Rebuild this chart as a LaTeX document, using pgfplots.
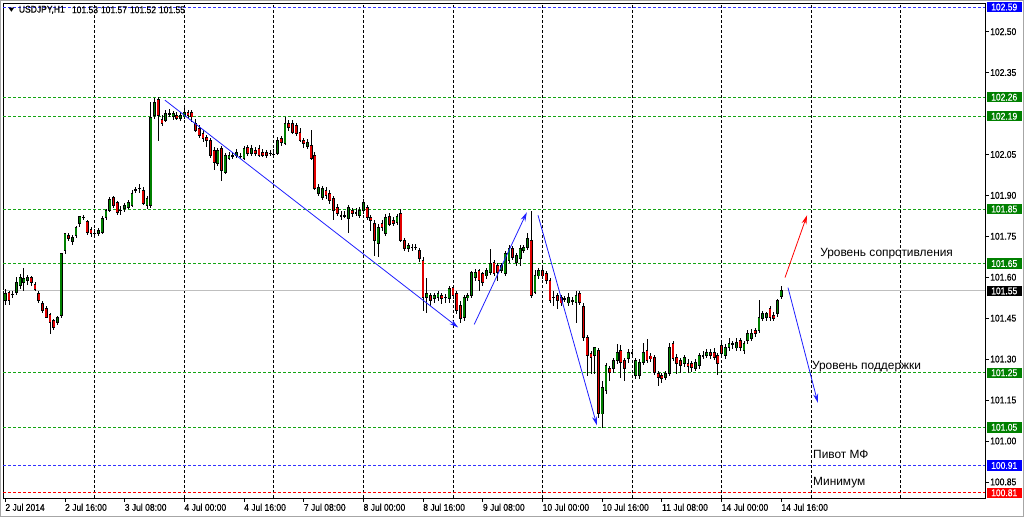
\documentclass[border=0pt]{standalone}
\usepackage{fontspec}
\setmainfont{Liberation Sans}
\newfontfamily\tah[FakeStretch=0.87,FakeBold=0.5]{Liberation Sans}
\usepackage{pgfplots}
\usepackage{pgfplotstable}
\pgfplotsset{compat=1.18}
\usetikzlibrary{arrows.meta}

\definecolor{bull}{RGB}{0,128,0}
\definecolor{bear}{RGB}{225,0,0}
\definecolor{lvl}{RGB}{20,165,20}
\definecolor{lvlbox}{RGB}{0,128,0}
\definecolor{pivblue}{RGB}{50,50,255}
\definecolor{arrblue}{RGB}{30,30,255}

% USDJPY H1, bar index from 2 Jul 2014 00:00
\pgfplotstableread{
t o h l c
0 101.515 101.559 101.500 101.540
1 101.544 101.551 101.500 101.515
2 101.537 101.551 101.526 101.537
3 101.544 101.603 101.537 101.581
4 101.570 101.614 101.559 101.599
5 101.581 101.636 101.551 101.595
6 101.588 101.610 101.573 101.599
7 101.599 101.606 101.570 101.581
8 101.573 101.584 101.548 101.555
9 101.540 101.551 101.507 101.515
10 101.504 101.515 101.471 101.478
11 101.485 101.493 101.449 101.452
12 101.463 101.471 101.394 101.434
13 101.441 101.449 101.408 101.416
14 101.434 101.460 101.427 101.452
15 101.460 101.691 101.452 101.687
16 101.698 101.764 101.687 101.761
17 101.753 101.764 101.735 101.742
18 101.731 101.757 101.720 101.746
19 101.753 101.790 101.746 101.783
20 101.798 101.827 101.786 101.823
21 101.820 101.827 101.812 101.820
22 101.805 101.812 101.757 101.764
23 101.775 101.786 101.750 101.761
24 101.761 101.779 101.750 101.761
25 101.761 101.783 101.753 101.772
26 101.764 101.823 101.757 101.816
27 101.820 101.853 101.812 101.845
28 101.845 101.893 101.838 101.886
29 101.893 101.900 101.856 101.864
30 101.875 101.882 101.831 101.838
31 101.845 101.860 101.827 101.845
32 101.853 101.871 101.838 101.864
33 101.856 101.882 101.849 101.875
34 101.864 101.919 101.856 101.908
35 101.922 101.933 101.911 101.922
36 101.926 101.944 101.911 101.926
37 101.919 101.933 101.864 101.871
38 101.864 101.900 101.853 101.889
39 101.864 102.242 101.856 102.187
40 102.194 102.260 102.183 102.242
41 102.253 102.260 102.102 102.194
42 102.179 102.194 102.154 102.165
43 102.176 102.212 102.168 102.201
44 102.201 102.216 102.190 102.201
45 102.190 102.212 102.176 102.201
46 102.194 102.205 102.176 102.183
47 102.183 102.205 102.172 102.194
48 102.187 102.220 102.179 102.205
49 102.205 102.212 102.183 102.194
50 102.205 102.212 102.168 102.187
51 102.165 102.179 102.132 102.139
52 102.146 102.157 102.110 102.121
53 102.128 102.139 102.095 102.110
54 102.113 102.124 102.080 102.102
55 102.102 102.113 102.040 102.047
56 102.066 102.076 101.992 102.022
57 102.018 102.073 102.007 102.066
58 102.073 102.080 101.955 101.992
59 101.985 102.058 101.978 102.047
60 102.036 102.058 102.029 102.047
61 102.047 102.058 102.036 102.047
62 102.047 102.069 102.036 102.058
63 102.044 102.055 102.033 102.044
64 102.036 102.080 102.029 102.073
65 102.076 102.084 102.044 102.055
66 102.055 102.084 102.044 102.073
67 102.066 102.076 102.044 102.055
68 102.073 102.084 102.040 102.047
69 102.058 102.069 102.040 102.047
70 102.058 102.066 102.036 102.047
71 102.055 102.066 102.044 102.055
72 102.051 102.073 102.040 102.051
73 102.055 102.113 102.047 102.102
74 102.110 102.117 102.080 102.095
75 102.091 102.187 102.084 102.165
76 102.165 102.176 102.139 102.150
77 102.165 102.176 102.124 102.132
78 102.157 102.165 102.117 102.128
79 102.132 102.146 102.095 102.102
80 102.102 102.113 102.073 102.091
81 102.080 102.106 102.069 102.095
82 102.084 102.139 102.029 102.036
83 102.047 102.058 101.919 101.926
84 101.908 101.940 101.896 101.930
85 101.893 101.937 101.886 101.926
86 101.919 101.930 101.889 101.900
87 101.908 101.919 101.871 101.882
88 101.889 101.900 101.809 101.845
89 101.856 101.867 101.823 101.834
90 101.827 101.845 101.812 101.827
91 101.827 101.845 101.816 101.827
92 101.816 101.867 101.764 101.856
93 101.845 101.856 101.823 101.834
94 101.838 101.853 101.827 101.838
95 101.827 101.856 101.816 101.845
96 101.845 101.886 101.834 101.875
97 101.856 101.867 101.812 101.820
98 101.820 101.831 101.772 101.809
99 101.798 101.809 101.680 101.735
100 101.724 101.794 101.673 101.783
101 101.798 101.812 101.772 101.783
102 101.761 101.831 101.753 101.820
103 101.823 101.834 101.786 101.794
104 101.809 101.820 101.790 101.798
105 101.801 101.834 101.794 101.823
106 101.834 101.849 101.728 101.735
107 101.735 101.746 101.698 101.706
108 101.706 101.728 101.695 101.717
109 101.709 101.724 101.698 101.709
110 101.709 101.720 101.698 101.709
111 101.698 101.709 101.658 101.669
112 101.662 101.673 101.478 101.526
113 101.526 101.599 101.471 101.540
114 101.533 101.544 101.496 101.515
115 101.522 101.544 101.507 101.533
116 101.526 101.551 101.515 101.540
117 101.533 101.544 101.504 101.522
118 101.526 101.540 101.507 101.526
119 101.522 101.570 101.507 101.559
120 101.562 101.570 101.522 101.533
121 101.540 101.551 101.467 101.478
122 101.496 101.515 101.434 101.449
123 101.452 101.537 101.441 101.526
124 101.526 101.544 101.515 101.533
125 101.533 101.625 101.526 101.617
126 101.599 101.632 101.588 101.617
127 101.625 101.632 101.551 101.588
128 101.614 101.621 101.570 101.581
129 101.606 101.636 101.595 101.625
130 101.617 101.706 101.610 101.651
131 101.654 101.665 101.606 101.614
132 101.643 101.654 101.588 101.617
133 101.625 101.654 101.617 101.643
134 101.614 101.698 101.606 101.687
135 101.662 101.717 101.654 101.706
136 101.706 101.717 101.665 101.673
137 101.654 101.691 101.643 101.680
138 101.669 101.717 101.640 101.706
139 101.698 101.720 101.691 101.709
140 101.709 101.764 101.702 101.742
141 101.735 101.845 101.526 101.533
142 101.544 101.625 101.537 101.606
143 101.606 101.636 101.595 101.625
144 101.625 101.636 101.595 101.606
145 101.614 101.625 101.577 101.588
146 101.588 101.599 101.507 101.515
147 101.526 101.551 101.496 101.526
148 101.533 101.544 101.485 101.515
149 101.526 101.537 101.496 101.507
150 101.522 101.533 101.511 101.522
151 101.507 101.544 101.496 101.526
152 101.515 101.529 101.500 101.515
153 101.507 101.551 101.434 101.533
154 101.540 101.551 101.500 101.507
155 101.493 101.504 101.368 101.379
156 101.379 101.390 101.240 101.313
157 101.320 101.331 101.247 101.306
158 101.313 101.342 101.247 101.342
159 101.331 101.342 101.085 101.100
160 101.100 101.221 101.049 101.196
161 101.184 101.287 101.173 101.276
162 101.265 101.276 101.221 101.251
163 101.265 101.306 101.251 101.295
164 101.295 101.357 101.284 101.324
165 101.331 101.350 101.229 101.287
166 101.295 101.306 101.221 101.265
167 101.302 101.339 101.287 101.324
168 101.324 101.339 101.309 101.324
169 101.240 101.306 101.229 101.295
170 101.240 101.302 101.229 101.287
171 101.287 101.361 101.280 101.324
172 101.331 101.375 101.287 101.295
173 101.313 101.324 101.291 101.302
174 101.306 101.317 101.243 101.251
175 101.247 101.258 101.203 101.232
176 101.240 101.251 101.214 101.229
177 101.232 101.258 101.225 101.247
178 101.247 101.361 101.240 101.342
179 101.357 101.368 101.295 101.302
180 101.306 101.317 101.247 101.284
181 101.295 101.306 101.251 101.276
182 101.284 101.317 101.273 101.306
183 101.287 101.302 101.251 101.276
184 101.284 101.295 101.254 101.269
185 101.265 101.302 101.258 101.287
186 101.276 101.324 101.265 101.313
187 101.313 101.331 101.302 101.313
188 101.313 101.339 101.306 101.324
189 101.324 101.339 101.302 101.313
190 101.324 101.339 101.295 101.306
191 101.313 101.324 101.240 101.284
192 101.350 101.368 101.309 101.320
193 101.313 101.357 101.302 101.342
194 101.342 101.379 101.331 101.357
195 101.357 101.368 101.339 101.357
196 101.342 101.379 101.331 101.361
197 101.368 101.379 101.331 101.342
198 101.331 101.368 101.320 101.357
199 101.368 101.405 101.357 101.394
200 101.375 101.412 101.368 101.394
201 101.405 101.416 101.383 101.394
202 101.405 101.515 101.397 101.452
203 101.449 101.478 101.441 101.467
204 101.452 101.475 101.441 101.467
205 101.485 101.496 101.441 101.452
206 101.460 101.471 101.441 101.449
207 101.467 101.522 101.456 101.515
208 101.530 101.570 101.520 101.550
}\ohlc

\begin{document}
\begin{tikzpicture}[
  smallfont/.style={font=\tah\fontsize{9.8}{11}\selectfont},
  pricebox/.style={anchor=west, text=white, inner sep=0pt, minimum width=35pt, minimum height=10.5pt, smallfont},
  lvlline/.style={line width=0.8pt, dash pattern=on 3pt off 2pt},
  note/.style={anchor=west, inner sep=0pt, font=\fontsize{11.9}{13}\selectfont},
  trend/.style={line width=0.8pt, -{Stealth[length=9pt,width=5pt]}},
  hdr/.style={anchor=west, inner sep=0pt, smallfont},
]
\begin{axis}[
  scale only axis, width=982pt, height=495pt,
  xmin=-0.59, xmax=262.6, ymin=100.791, ymax=102.605,
  clip=false,
  axis line style={black, line width=0.8pt},
  tick align=outside, major tick length=4pt,
  tick style={black, line width=0.8pt},
  xtick pos=left, ytick pos=right, yticklabel pos=right,
  xtick={0,16,...,208},
  xticklabels={2 Jul 2014, 2 Jul 16:00, 3 Jul 08:00, 4 Jul 00:00, 4 Jul 16:00, 7 Jul 08:00, 8 Jul 00:00, 8 Jul 16:00, 9 Jul 08:00, 10 Jul 00:00, 10 Jul 16:00, 11 Jul 08:00, 14 Jul 00:00, 14 Jul 16:00},
  minor xtick={24,48,...,240}, minor tick length=0pt,
  xminorgrids, minor grid style={black, line width=0.8pt, dash pattern=on 3pt off 2pt},
  ytick={100.85,101.00,101.15,101.30,101.45,101.60,101.75,101.90,102.05,102.35,102.50},
  ticklabel style={font=\tah\fontsize{9.8}{11}\selectfont},
  xticklabel style={anchor=north west, inner sep=0pt, yshift=-1.5pt},
  yticklabel style={anchor=west, inner sep=0pt, xshift=1pt,
    /pgf/number format/.cd, fixed, fixed zerofill, precision=2, assume math mode=true},
]
% levels
\addplot[lvl, lvlline] coordinates {(-0.59,102.26) (262.6,102.26)};
\addplot[lvl, lvlline] coordinates {(-0.59,102.19) (262.6,102.19)};
\addplot[lvl, lvlline] coordinates {(-0.59,101.85) (262.6,101.85)};
\addplot[lvl, lvlline] coordinates {(-0.59,101.65) (262.6,101.65)};
\addplot[lvl, lvlline] coordinates {(-0.59,101.25) (262.6,101.25)};
\addplot[lvl, lvlline] coordinates {(-0.59,101.05) (262.6,101.05)};
\addplot[pivblue, lvlline] coordinates {(-0.59,102.59) (262.6,102.59)};
\addplot[pivblue, lvlline] coordinates {(-0.59,100.91) (262.6,100.91)};
\addplot[red, lvlline] coordinates {(-0.59,100.81) (262.6,100.81)};
\addplot[black!25, line width=0.8pt] coordinates {(-0.59,101.55) (262.6,101.55)};

% wicks
\addplot[draw=none, mark=none, error bars/.cd, y dir=both, y explicit, error mark=none,
  error bar style={draw=black, line width=0.8pt}]
  table[x=t, y expr=(\thisrow{h}+\thisrow{l})/2, y error expr=(\thisrow{h}-\thisrow{l})/2] {\ohlc};
% body outline
\addplot[draw=none, mark=none, error bars/.cd, y dir=both, y explicit, error mark=none,
  error bar style={draw=black, line width=2.8pt}]
  table[x=t, y expr=(\thisrow{o}+\thisrow{c})/2, y error expr=abs(\thisrow{c}-\thisrow{o})/2+0.0016] {\ohlc};
% bull bodies
\addplot[draw=none, mark=none, error bars/.cd, y dir=both, y explicit, error mark=none,
  error bar style={draw=bull, line width=1.7pt}]
  table[x=t, y expr={\thisrow{c}>\thisrow{o} ? (\thisrow{o}+\thisrow{c})/2 : nan},
        y error expr={max(abs(\thisrow{c}-\thisrow{o})/2-0.0016,0)}] {\ohlc};
% bear bodies
\addplot[draw=none, mark=none, error bars/.cd, y dir=both, y explicit, error mark=none,
  error bar style={draw=bear, line width=1.7pt}]
  table[x=t, y expr={\thisrow{c}<\thisrow{o} ? (\thisrow{o}+\thisrow{c})/2 : nan},
        y error expr={max(abs(\thisrow{c}-\thisrow{o})/2-0.0016,0)}] {\ohlc};

% trend arrows
\draw[arrblue, trend] (axis cs:42.8,102.249) -- (axis cs:121.4,101.416);
\draw[arrblue, trend] (axis cs:125.7,101.427) -- (axis cs:139.8,101.838);
\draw[arrblue, trend] (axis cs:142.8,101.827) -- (axis cs:158.6,101.057);
\draw[red, trend] (axis cs:209.0,101.599) -- (axis cs:214.9,101.827);
\draw[arrblue, trend] (axis cs:209.8,101.562) -- (axis cs:217.8,101.140);

% texts
\node[note] at (axis cs:218.4,101.687) {Уровень сопротивления};
\node[note] at (axis cs:216.2,101.273) {Уровень поддержки};
\node[note] at (axis cs:216.5,100.949) {Пивот МФ};
\node[note] at (axis cs:216.5,100.847) {Минимум};

% header
\fill (axis cs:0.9,102.588) -- (axis cs:2.4,102.588) -- (axis cs:1.65,102.573) -- cycle;
\node[hdr] at (axis cs:3.62,102.580) {USDJPY,H1};
\node[hdr] at (axis cs:17.83,102.580) {101.53};
\node[hdr] at (axis cs:25.60,102.580) {101.57};
\node[hdr] at (axis cs:33.38,102.580) {101.52};
\node[hdr] at (axis cs:41.15,102.580) {101.55};

% price boxes
\node[pricebox, fill=blue]   at ([xshift=1.5pt]axis cs:262.6,102.59) {102.59};
\node[pricebox, fill=lvlbox] at ([xshift=1.5pt]axis cs:262.6,102.26) {102.26};
\node[pricebox, fill=lvlbox] at ([xshift=1.5pt]axis cs:262.6,102.19) {102.19};
\node[pricebox, fill=lvlbox] at ([xshift=1.5pt]axis cs:262.6,101.85) {101.85};
\node[pricebox, fill=lvlbox] at ([xshift=1.5pt]axis cs:262.6,101.65) {101.65};
\node[pricebox, fill=black]  at ([xshift=1.5pt]axis cs:262.6,101.55) {101.55};
\node[pricebox, fill=lvlbox] at ([xshift=1.5pt]axis cs:262.6,101.25) {101.25};
\node[pricebox, fill=lvlbox] at ([xshift=1.5pt]axis cs:262.6,101.05) {101.05};
\node[pricebox, fill=blue]   at ([xshift=1.5pt]axis cs:262.6,100.91) {100.91};
\node[pricebox, fill=red]    at ([xshift=1.5pt]axis cs:262.6,100.81) {100.81};

% window frame
\draw[black!35, line width=0.8pt] ([shift={(-2.6pt,-18.6pt)}]rel axis cs:0,0) rectangle ([shift={(38.6pt,2.6pt)}]rel axis cs:1,1);
\end{axis}
\end{tikzpicture}
\end{document}
